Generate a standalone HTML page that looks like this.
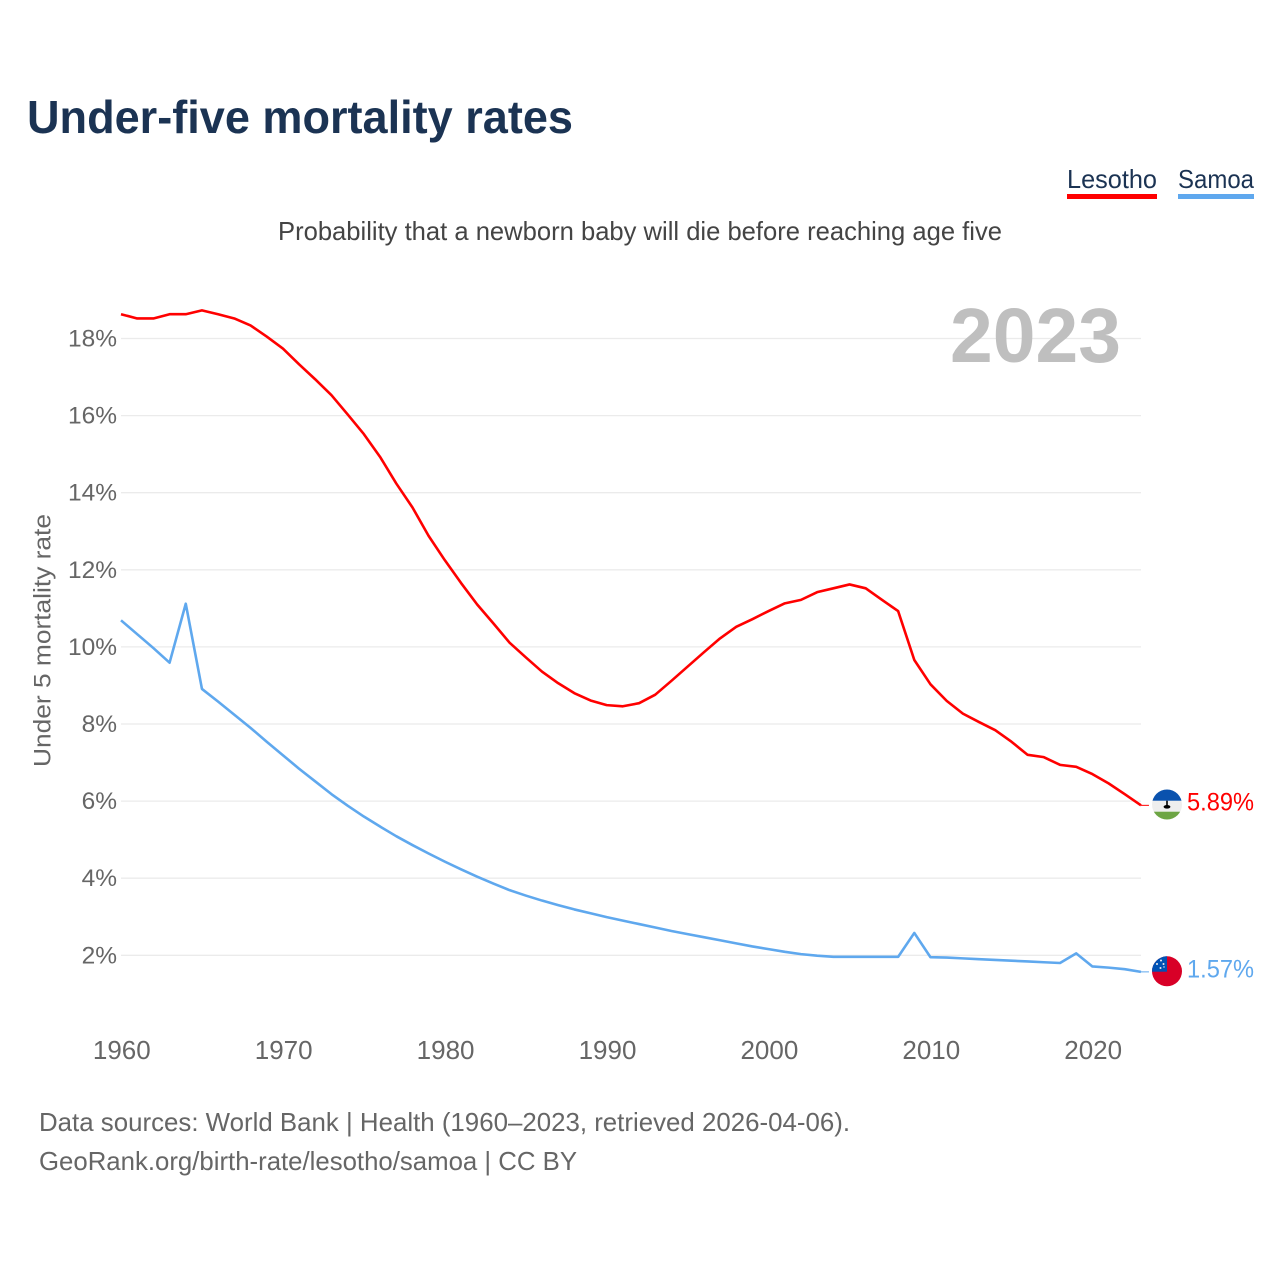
<!DOCTYPE html>
<html lang="en">
<head>
<meta charset="utf-8">
<title>Under-five mortality rates</title>
<style>
html,body{margin:0;padding:0;background:#fff;width:1280px;height:1280px;overflow:hidden}
svg{display:block}
text{font-family:"Liberation Sans",sans-serif}
</style>
</head>
<body>
<svg id="chart" xmlns="http://www.w3.org/2000/svg" width="1280" height="1280" viewBox="0 0 1280 1280">
  <rect width="1280" height="1280" fill="#ffffff"/>
  <text x="27" y="133" font-size="46" font-weight="700" fill="#1b3353" textLength="546" lengthAdjust="spacingAndGlyphs">Under-five mortality rates</text>

  <g>
    <text x="1067" y="188" font-size="26" fill="#1b3353" textLength="90" lengthAdjust="spacingAndGlyphs">Lesotho</text>
    <rect x="1067" y="194" width="90" height="5" fill="#ff0000"/>
  </g>
  <g>
    <text x="1178" y="188" font-size="26" fill="#1b3353" textLength="76" lengthAdjust="spacingAndGlyphs">Samoa</text>
    <rect x="1178" y="194" width="76" height="5" fill="#5fa8ee"/>
  </g>

  <text x="278" y="240" font-size="26" fill="#444444" textLength="724" lengthAdjust="spacingAndGlyphs">Probability that a newborn baby will die before reaching age five</text>

  <g id="grid"></g>
  <g id="yticks"></g>
  <g id="xticks"></g>

  <text x="950" y="362" font-size="77" font-weight="700" fill="#bfbfbf" textLength="171" lengthAdjust="spacingAndGlyphs">2023</text>

  <text transform="translate(50.5 767) rotate(-90)" x="0" y="0" font-size="24.5" fill="#666666" textLength="253" lengthAdjust="spacingAndGlyphs">Under 5 mortality rate</text>

  <g id="series"></g>

  <g>
    <clipPath id="clip-ls"><circle cx="1167" cy="804.5" r="15"/></clipPath>
    <g clip-path="url(#clip-ls)">
      <rect x="1150" y="788" width="34" height="13" fill="#0a52ae"/>
      <rect x="1150" y="800.7" width="34" height="11" fill="#eeeeee"/>
      <rect x="1150" y="811.7" width="34" height="10" fill="#6da544"/>
      <rect x="1166.2" y="800.7" width="1.6" height="6" fill="#000000"/>
      <ellipse cx="1167" cy="806.8" rx="3.4" ry="1.8" fill="#000000"/>
    </g>
  </g>
  <g>
    <clipPath id="clip-ws"><circle cx="1167" cy="971.3" r="15"/></clipPath>
    <g clip-path="url(#clip-ws)">
      <rect x="1150" y="955" width="34" height="34" fill="#d80027"/>
      <rect x="1150" y="955" width="17" height="16.7" fill="#0052b4"/>
      <circle cx="1161" cy="960.5" r="1" fill="#eeeeee"/>
      <circle cx="1157" cy="964" r="1" fill="#eeeeee"/>
      <circle cx="1163.5" cy="964" r="1" fill="#eeeeee"/>
      <circle cx="1160.5" cy="968" r="1" fill="#eeeeee"/>
      <circle cx="1164" cy="967" r="0.7" fill="#eeeeee"/>
    </g>
  </g>

  <text x="1187" y="810.5" font-size="25" fill="#ff0000" textLength="67" lengthAdjust="spacingAndGlyphs">5.89%</text>
  <text x="1187" y="977.5" font-size="25" fill="#5fa8ee" textLength="67" lengthAdjust="spacingAndGlyphs">1.57%</text>

  <text x="39" y="1131" font-size="26" fill="#666666" textLength="811" lengthAdjust="spacingAndGlyphs">Data sources: World Bank | Health (1960–2023, retrieved 2026-04-06).</text>
  <text x="39" y="1170" font-size="26" fill="#666666" textLength="538" lengthAdjust="spacingAndGlyphs">GeoRank.org/birth-rate/lesotho/samoa | CC BY</text>
</svg>
<script>
const startYear = 1960;
const yTickValues = [2, 4, 6, 8, 10, 12, 14, 16, 18];
const xTickYears = [1960, 1970, 1980, 1990, 2000, 2010, 2020];
const lesothoValues = [
  18.63, 18.52, 18.52, 18.63, 18.63, 18.73, 18.63, 18.52, 18.34, 18.05,
  17.74, 17.33, 16.94, 16.53, 16.03, 15.52, 14.93, 14.24, 13.62, 12.88,
  12.25, 11.66, 11.10, 10.61, 10.11, 9.73, 9.36, 9.06, 8.80, 8.61,
  8.49, 8.46, 8.54, 8.76, 9.12, 9.49, 9.86, 10.22, 10.52, 10.72,
  10.93, 11.13, 11.22, 11.42, 11.52, 11.62, 11.52, 11.22, 10.93, 9.66,
  9.03, 8.60, 8.27, 8.05, 7.84, 7.54, 7.20, 7.14, 6.94, 6.89,
  6.70, 6.46, 6.18, 5.89
];
const samoaValues = [
  10.69, 10.33, 9.97, 9.59, 11.12, 8.91, 8.58, 8.24, 7.90, 7.54,
  7.19, 6.84, 6.51, 6.18, 5.88, 5.60, 5.34, 5.09, 4.86, 4.64,
  4.43, 4.23, 4.04, 3.86, 3.69, 3.55, 3.42, 3.30, 3.19, 3.09,
  2.99, 2.90, 2.81, 2.72, 2.63, 2.55, 2.47, 2.39, 2.31, 2.23,
  2.16, 2.09, 2.03, 1.99, 1.96, 1.96, 1.96, 1.96, 1.96, 2.58,
  1.95, 1.94, 1.92, 1.90, 1.88, 1.86, 1.84, 1.82, 1.80, 2.05,
  1.71, 1.68, 1.64, 1.57
];

const NS = 'http://www.w3.org/2000/svg';
function xScale(year) { return 121 + (year - startYear) * 16.19; }
function yScale(value) { return 955.3 - (value - 2) * 38.55; }
function make(tag, attrs, parent) {
  const el = document.createElementNS(NS, tag);
  for (const k in attrs) el.setAttribute(k, attrs[k]);
  parent.appendChild(el);
  return el;
}

const gridGroup = document.getElementById('grid');
const yTickGroup = document.getElementById('yticks');
yTickValues.forEach(function (v) {
  const line = make('line', { x1: 121, x2: 1141, y1: yScale(v), y2: yScale(v), stroke: '#ebebeb', 'stroke-width': 1.3 }, gridGroup);
  
  
  const label = make('text', { x: 117, y: yScale(v) + 8, 'text-anchor': 'end', 'font-size': 24.5, fill: '#666666' }, yTickGroup);
  
  
  label.textContent = v + '%';
});

const xTickGroup = document.getElementById('xticks');
xTickYears.forEach(function (year) {
  const label = make('text', { x: xScale(year) + 0.8, y: 1059, 'text-anchor': 'middle', 'font-size': 26, fill: '#666666' }, xTickGroup);
  
  
  label.textContent = year;
});

const seriesGroup = document.getElementById('series');
function linePoints(values) {
  return values.map(function (v, i) {
    return xScale(startYear + i).toFixed(2) + ',' + yScale(v).toFixed(2);
  }).join(' ');
}
function lastPoint(values) {
  return { x: xScale(startYear + values.length - 1), y: yScale(values[values.length - 1]) };
}

const lesothoLine = make('polyline', { points: linePoints(lesothoValues), fill: 'none', stroke: '#ff0000', 'stroke-width': 2.6, 'stroke-linejoin': 'round' }, seriesGroup);


const lesothoEnd = lastPoint(lesothoValues);
const lesothoStub = make('line', { x1: lesothoEnd.x, x2: lesothoEnd.x + 8, y1: lesothoEnd.y, y2: lesothoEnd.y, stroke: '#ff0000', 'stroke-width': 1 }, seriesGroup);



const samoaLine = make('polyline', { points: linePoints(samoaValues), fill: 'none', stroke: '#5fa8ee', 'stroke-width': 2.6, 'stroke-linejoin': 'round' }, seriesGroup);


const samoaEnd = lastPoint(samoaValues);
const samoaStub = make('line', { x1: samoaEnd.x, x2: samoaEnd.x + 8, y1: samoaEnd.y, y2: samoaEnd.y, stroke: '#5fa8ee', 'stroke-width': 1 }, seriesGroup);


</script>
</body>
</html>
